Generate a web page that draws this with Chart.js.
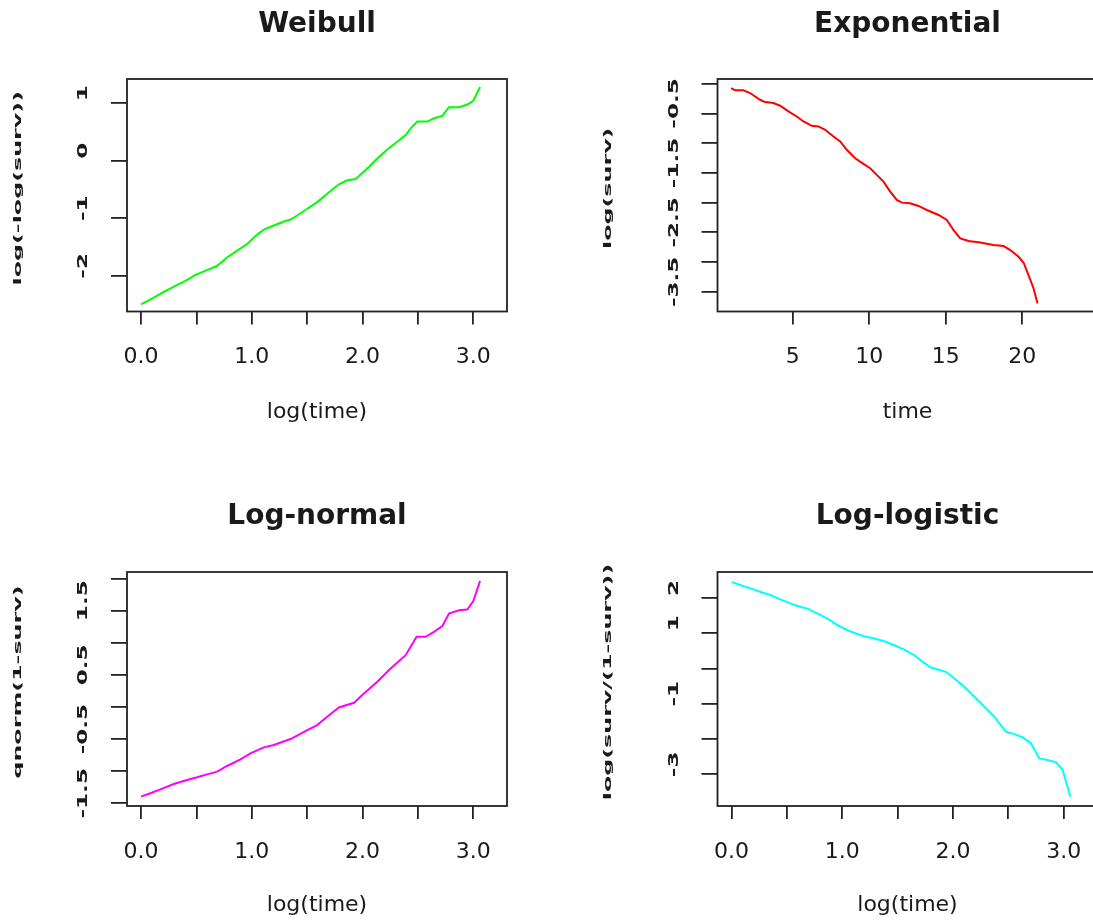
<!DOCTYPE html>
<html>
<head>
<meta charset="utf-8">
<script src="https://cdn.jsdelivr.net/npm/chart.js@4.4.1/dist/chart.umd.min.js"></script>
<style>
  html, body { margin: 0; padding: 0; background: #fff; overflow: hidden; width: 1093px; height: 924px; }
  canvas { position: absolute; }
</style>
</head>
<body>
<canvas id="weibull" width="546" height="462" style="left:0;top:0"></canvas>
<canvas id="expo" width="600" height="462" style="left:546px;top:0"></canvas>
<canvas id="lnorm" width="546" height="462" style="left:0;top:462px"></canvas>
<canvas id="llog" width="600" height="462" style="left:546px;top:462px"></canvas>
<script>
// Weibull: log(-log(surv)) vs log(time)
const weibullX = [0.0, 0.114, 0.205, 0.310, 0.401, 0.491, 0.596, 0.687, 0.777, 0.868, 0.958, 1.049, 1.109, 1.199, 1.290, 1.350, 1.410, 1.501, 1.591, 1.681, 1.787, 1.862, 1.938, 2.043, 2.134, 2.224, 2.314, 2.390, 2.435, 2.495, 2.586, 2.646, 2.721, 2.781, 2.872, 2.947, 3.002, 3.062];
const weibullY = [-2.495, -2.379, -2.280, -2.175, -2.087, -1.983, -1.901, -1.825, -1.680, -1.563, -1.447, -1.284, -1.196, -1.126, -1.056, -1.021, -0.952, -0.835, -0.719, -0.573, -0.410, -0.340, -0.317, -0.136, 0.039, 0.196, 0.330, 0.446, 0.563, 0.679, 0.679, 0.738, 0.778, 0.930, 0.930, 0.976, 1.046, 1.279];

// Exponential: log(surv) vs time
const expX = [0.97, 1.23, 1.77, 2.21, 2.86, 3.19, 3.74, 4.17, 4.72, 5.26, 5.70, 6.24, 6.68, 7.12, 7.66, 8.10, 8.53, 9.08, 9.62, 10.06, 10.49, 10.93, 11.37, 11.80, 12.13, 12.67, 13.22, 13.76, 14.53, 15.07, 15.51, 15.95, 16.49, 17.25, 18.13, 18.78, 19.22, 19.76, 20.09, 20.41, 20.74, 21.00];
const expY = [-0.073, -0.112, -0.112, -0.157, -0.270, -0.309, -0.326, -0.371, -0.466, -0.551, -0.635, -0.708, -0.719, -0.775, -0.888, -0.972, -1.112, -1.253, -1.348, -1.421, -1.534, -1.646, -1.815, -1.955, -2.000, -2.011, -2.056, -2.124, -2.208, -2.292, -2.461, -2.601, -2.646, -2.669, -2.714, -2.730, -2.798, -2.910, -3.011, -3.219, -3.444, -3.697];

// Log-normal: qnorm(1-surv) vs log(time)
const lnormX = [0.0, 0.084, 0.175, 0.295, 0.416, 0.506, 0.596, 0.687, 0.777, 0.898, 0.988, 1.109, 1.199, 1.350, 1.501, 1.591, 1.681, 1.787, 1.923, 2.013, 2.134, 2.254, 2.390, 2.435, 2.489, 2.571, 2.646, 2.721, 2.781, 2.872, 2.947, 3.002, 3.062];
const lnormY = [-1.396, -1.344, -1.282, -1.199, -1.137, -1.095, -1.049, -1.007, -0.919, -0.815, -0.722, -0.629, -0.592, -0.499, -0.359, -0.281, -0.152, -0.007, 0.066, 0.211, 0.393, 0.600, 0.807, 0.937, 1.093, 1.093, 1.170, 1.259, 1.456, 1.507, 1.518, 1.653, 1.964];

// Log-logistic: log(surv/(1-surv)) vs log(time)
const llogX = [0.003, 0.084, 0.175, 0.265, 0.355, 0.446, 0.536, 0.626, 0.687, 0.777, 0.867, 0.958, 1.048, 1.123, 1.199, 1.289, 1.380, 1.470, 1.560, 1.651, 1.726, 1.801, 1.861, 1.937, 2.012, 2.102, 2.193, 2.283, 2.373, 2.419, 2.479, 2.554, 2.629, 2.705, 2.780, 2.855, 2.931, 2.991, 3.021, 3.060];
const llogY = [2.453, 2.359, 2.264, 2.170, 2.076, 1.953, 1.840, 1.745, 1.698, 1.557, 1.415, 1.226, 1.085, 0.991, 0.915, 0.849, 0.773, 0.660, 0.538, 0.377, 0.189, 0.028, -0.028, -0.094, -0.283, -0.519, -0.802, -1.085, -1.368, -1.557, -1.793, -1.859, -1.953, -2.123, -2.548, -2.595, -2.661, -2.878, -3.208, -3.633];

// tick positions and labels (R skips crowded labels)
const logTimeTicks = [0, 0.5, 1, 1.5, 2, 2.5, 3];
const logTimeLabels = ['0.0', '', '1.0', '', '2.0', '', '3.0'];
const timeTicks = [5, 10, 15, 20];
const timeLabels = ['5', '10', '15', '20'];
const weibullTicks = [-2, -1, 0, 1];
const weibullLabels = ['-2', '-1', '0', '1'];
const expTicks = [-3.5, -3, -2.5, -2, -1.5, -1, -0.5, 0];
const expLabels = ['-3.5', '', '-2.5', '', '-1.5', '', '-0.5', ''];
const lnormTicks = [-1.5, -1, -0.5, 0, 0.5, 1, 1.5, 2];
const lnormLabels = ['-1.5', '', '-0.5', '', '0.5', '', '1.5', ''];
const llogTicks = [-3, -2, -1, 0, 1, 2];
const llogLabels = ['-3', '', '-1', '', '1', '2'];

const INK = '#1a1a1a';
const FONT = '"DejaVu Sans", "Liberation Sans", sans-serif';

// box, main title, and the squeezed rotated y texts R drew
const rDecor = {
  id: 'rDecor',
  afterDraw(chart, args, o) {
    const { ctx, chartArea: a } = chart;
    const ys = chart.scales.y;
    ctx.save();
    ctx.strokeStyle = '#222';
    ctx.lineWidth = 1.8;
    ctx.strokeRect(a.left, a.top, a.right - a.left, a.bottom - a.top);
    ctx.fillStyle = INK;
    ctx.textAlign = 'center';
    ctx.textBaseline = 'middle';
    ctx.font = 'bold 28px ' + FONT;
    ctx.fillText(o.title, (a.left + a.right) / 2, o.titleY);
    const vtext = (txt, x, y, font, sx, sy) => {
      ctx.save();
      ctx.translate(x, y);
      ctx.rotate(-Math.PI / 2);
      ctx.scale(sx, sy);
      ctx.font = font;
      ctx.fillText(txt, 0, 0);
      ctx.restore();
    };
    o.ticks.forEach((v, i) => {
      if (o.labels[i]) vtext(o.labels[i], a.left - 43, ys.getPixelForValue(v) - 10, 'bold 22px ' + FONT, 1.05, 0.6);
    });
    vtext(o.yTitle, a.left - 109, (a.top + a.bottom) / 2 - 7, 'bold 22px ' + FONT, 1.08, 0.5);
    ctx.restore();
  }
};

function panel(id, p) {
  new Chart(document.getElementById(id), {
    type: 'line',
    data: {
      datasets: [{
        data: p.xs.map((x, i) => ({ x: x, y: p.ys[i] })),
        borderColor: p.color,
        borderWidth: 2,
        pointRadius: 0,
        tension: 0,
        fill: false
      }]
    },
    options: {
      responsive: false,
      animation: false,
      layout: { padding: { top: p.padTop, right: p.padRight, left: 0, bottom: 0 } },
      plugins: {
        legend: { display: false },
        tooltip: { enabled: false },
        rDecor: { title: p.title, titleY: p.titleY, yTitle: p.yTitle, ticks: p.yTicks, labels: p.yLabels }
      },
      scales: {
        x: {
          type: 'linear',
          min: p.xMin, max: p.xMax,
          afterBuildTicks: s => { s.ticks = p.xTicks.map(v => ({ value: v })); },
          afterFit: s => { s.height = p.xHeight; },
          ticks: {
            autoSkip: false, maxRotation: 0, padding: 20, color: INK,
            font: { family: FONT, size: 22 },
            callback: (v, i) => p.xLabels[i]
          },
          grid: { drawOnChartArea: false, drawTicks: true, tickLength: 13, color: '#222', lineWidth: 1.8 },
          border: { display: false },
          title: { display: true, text: p.xTitle, color: INK, font: { family: FONT, size: 22 }, padding: { top: 0, bottom: p.xTitlePad } }
        },
        y: {
          type: 'linear',
          min: p.yMin, max: p.yMax,
          afterBuildTicks: s => { s.ticks = p.yTicks.map(v => ({ value: v })); },
          afterFit: s => { s.width = p.yWidth; },
          ticks: { display: false },
          grid: { drawOnChartArea: false, drawTicks: true, tickLength: 16, color: '#222', lineWidth: 1.8 },
          border: { display: false }
        }
      }
    },
    plugins: [rDecor]
  });
}

const topRow = { padTop: 79, xHeight: 150.5, xTitlePad: 37, titleY: 25 };
const bottomRow = { padTop: 110, xHeight: 118, xTitlePad: 6, titleY: 55 };
const leftCol = { padRight: 39, yWidth: 127 };
const rightCol = { padRight: 48.5, yWidth: 171.5 };
const logAxis = { xMin: -0.1271, xMax: 3.3053, xTicks: logTimeTicks, xLabels: logTimeLabels, xTitle: 'log(time)' };

panel('weibull', Object.assign({}, topRow, leftCol, logAxis, {
  xs: weibullX, ys: weibullY, color: '#00ff00', title: 'Weibull', yTitle: 'log(-log(surv))',
  yMin: -2.619, yMax: 1.419, yTicks: weibullTicks, yLabels: weibullLabels
}));
panel('expo', Object.assign({}, topRow, rightCol, {
  xs: expX, ys: expY, color: '#ff0000', title: 'Exponential', yTitle: 'log(surv)',
  xMin: 0.08, xMax: 24.92, xTicks: timeTicks, xLabels: timeLabels, xTitle: 'time',
  yMin: -3.831, yMax: 0.079, yTicks: expTicks, yLabels: expLabels
}));
panel('lnorm', Object.assign({}, bottomRow, leftCol, logAxis, {
  xs: lnormX, ys: lnormY, color: '#ff00ff', title: 'Log-normal', yTitle: 'qnorm(1-surv)',
  yMin: -1.542, yMax: 2.103, yTicks: lnormTicks, yLabels: lnormLabels
}));
panel('llog', Object.assign({}, bottomRow, rightCol, logAxis, {
  xs: llogX, ys: llogY, color: '#00ffff', title: 'Log-logistic', yTitle: 'log(surv/(1-surv))',
  yMin: -3.898, yMax: 2.736, yTicks: llogTicks, yLabels: llogLabels
}));
</script>
</body>
</html>
